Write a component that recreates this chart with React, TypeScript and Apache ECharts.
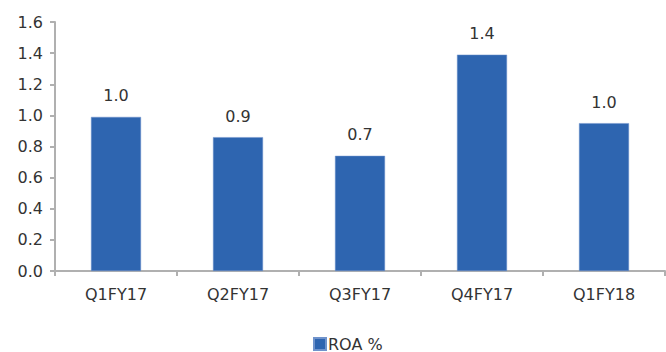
import React, { useEffect, useRef } from "react";
import * as echarts from "echarts";

const categories = ["Q1FY17", "Q2FY17", "Q3FY17", "Q4FY17", "Q1FY18"];
const roaValues = [0.99, 0.86, 0.74, 1.39, 0.95];
const seriesName = "ROA %";

export default function App() {
  const ref = useRef<HTMLDivElement>(null);

  useEffect(() => {
    if (!ref.current) return;
    const chart = echarts.init(ref.current, undefined, { renderer: "svg" });
    const font = "DejaVu Sans";
    chart.setOption({
      animation: false,
      backgroundColor: "#ffffff",
      textStyle: { fontFamily: font },
      grid: { left: 55, right: 1, top: 22, bottom: 81, containLabel: false },
      legend: {
        data: [seriesName],
        left: 313,
        top: 336,
        itemWidth: 12,
        itemHeight: 12,
        itemGap: 4,
        icon: "rect",
        padding: 0,
        textStyle: { fontFamily: font, fontSize: 16, color: "#333333", padding: [0, 0, 0, -3] },
      },
      xAxis: {
        type: "category",
        data: categories,
        boundaryGap: true,
        axisLine: { show: true, lineStyle: { color: "#b0b0b0", width: 2 } },
        axisTick: { show: true, length: 5, lineStyle: { color: "#b0b0b0", width: 2 } },
        axisLabel: { fontFamily: font, fontSize: 16, color: "#333333", margin: 15 },
        splitLine: { show: false },
      },
      yAxis: {
        type: "value",
        min: 0,
        max: 1.6,
        interval: 0.2,
        axisLine: { show: true, lineStyle: { color: "#b0b0b0", width: 2 } },
        axisTick: { show: true, length: 5, lineStyle: { color: "#b0b0b0", width: 2 } },
        axisLabel: {
          fontFamily: font,
          fontSize: 16,
          color: "#333333",
          margin: 12,
          formatter: (v: number) => v.toFixed(1),
        },
        splitLine: { show: false },
      },
      series: [
        {
          name: seriesName,
          type: "bar",
          data: roaValues,
          barWidth: 50,
          itemStyle: { color: "#2E65B0", borderColor: "#6f93cc", borderWidth: 0.5 },
          label: {
            show: true,
            position: "top",
            distance: 13,
            fontFamily: font,
            fontSize: 16,
            color: "#333333",
            formatter: (p: any) => (Math.round(p.value * 10) / 10).toFixed(1),
          },
        },
      ],
    });
    return () => chart.dispose();
  }, []);

  return (
    <div
      ref={ref}
      style={{ position: "absolute", left: 0, top: 0, width: 666, height: 352 }}
    />
  );
}
